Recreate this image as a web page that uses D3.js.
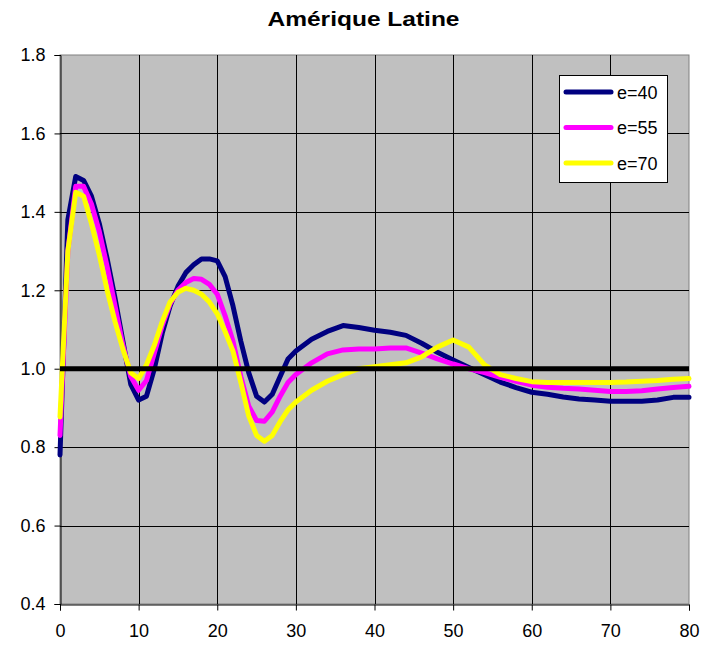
<!DOCTYPE html>
<html>
<head>
<meta charset="utf-8">
<script src="https://cdn.jsdelivr.net/npm/d3@7"></script>
<style>
  html, body { margin: 0; padding: 0; background: #ffffff; }
  svg text { font-family: "Liberation Sans", Arial, sans-serif; }
</style>
</head>
<body>
<svg id="chart" width="705" height="645"></svg>
<script>
const title = "Amérique Latine";
const years = [0,1,2,3,4,5,6,7,8,9,10,11,12,13,14,15,16,17,18,19,20,21,22,23,24,25,26,27,28,29,30,
               32,34,36,38,40,42,44,46,48,50,52,54,56,58,60,62,64,66,68,70,72,74,76,78,80];
const seriesNames = ["e=40", "e=55", "e=70"];
const e40 = [0.78,1.38,1.49,1.48,1.44,1.37,1.28,1.18,1.07,0.96,0.92,0.93,1.00,1.09,1.16,1.21,1.245,1.265,1.28,1.28,1.275,1.235,1.16,1.07,0.99,0.93,0.915,0.935,0.98,1.025,1.045,
             1.075,1.095,1.11,1.105,1.098,1.093,1.085,1.065,1.042,1.022,1.003,0.985,0.966,0.952,0.94,0.935,0.928,0.923,0.92,0.917,0.917,0.917,0.92,0.927,0.927];
const e55 = [0.83,1.30,1.465,1.465,1.42,1.35,1.26,1.16,1.06,0.98,0.945,0.97,1.04,1.11,1.165,1.20,1.22,1.23,1.228,1.215,1.19,1.135,1.07,0.98,0.905,0.868,0.866,0.89,0.93,0.965,0.985,
             1.015,1.038,1.048,1.05,1.05,1.053,1.053,1.04,1.025,1.012,1.0,0.99,0.978,0.968,0.958,0.953,0.95,0.948,0.945,0.942,0.942,0.944,0.948,0.952,0.955];
const e70 = [0.877,1.30,1.45,1.44,1.37,1.29,1.20,1.12,1.05,0.99,0.975,1.01,1.06,1.12,1.17,1.195,1.205,1.20,1.19,1.17,1.14,1.095,1.045,0.965,0.88,0.83,0.815,0.83,0.865,0.895,0.915,
             0.945,0.968,0.985,1.0,1.005,1.01,1.015,1.03,1.055,1.073,1.055,1.01,0.985,0.975,0.967,0.965,0.965,0.965,0.965,0.965,0.966,0.968,0.97,0.973,0.975];
const seriesColors = ["#000080", "#FF00FF", "#FFFF00"];
const refLevel = 1.0;
const xTicks = [0,10,20,30,40,50,60,70,80];
const yTicks = [0.4,0.6,0.8,1.0,1.2,1.4,1.6,1.8];

const svg = d3.select("#chart");
const L = 60, R = 689, T = 55, B = 604;
const x = d3.scaleLinear().domain([0, 80]).range([L, R]);
const y = d3.scaleLinear().domain([0.4, 1.8]).range([B, T]);

// Title
svg.append("text").attr("x", 363.5).attr("y", 26).attr("text-anchor", "middle")
  .attr("font-size", 20).attr("font-weight", "bold").attr("fill", "#000")
  .attr("textLength", 192).attr("lengthAdjust", "spacingAndGlyphs").text(title);

// Plot background
svg.append("rect").attr("x", L).attr("y", T).attr("width", R - L).attr("height", B - T)
  .attr("fill", "#C0C0C0").attr("stroke", "#808080").attr("stroke-width", 1);

// Gridlines
svg.append("g").selectAll("line").data(xTicks.filter(d => d > 0 && d < 80)).join("line")
  .attr("x1", d => Math.round(x(d)) + 0.5).attr("x2", d => Math.round(x(d)) + 0.5)
  .attr("y1", T).attr("y2", B).attr("stroke", "#000").attr("stroke-width", 1);
svg.append("g").selectAll("line").data(yTicks.filter(d => d > 0.4 && d < 1.8)).join("line")
  .attr("x1", L).attr("x2", R)
  .attr("y1", d => Math.round(y(d)) + 0.5).attr("y2", d => Math.round(y(d)) + 0.5)
  .attr("stroke", "#000").attr("stroke-width", 1);

// Axes
const yAxis = d3.axisLeft(y).tickValues(yTicks).tickFormat(d3.format(".1f")).tickSize(6).tickPadding(9);
const gy = svg.append("g").attr("transform", `translate(${L + 0.5},0)`).call(yAxis);
gy.selectAll("text").attr("font-size", 18).attr("fill", "#000").attr("font-family", "Liberation Sans, Arial, sans-serif");
gy.selectAll("line, path").attr("stroke", "#000");

const xAxis = d3.axisBottom(x).tickValues(xTicks).tickFormat(d3.format("d")).tickSize(6).tickPadding(14);
const gx = svg.append("g").attr("transform", `translate(0,${B + 0.5})`).call(xAxis);
gx.selectAll("text").attr("font-size", 18).attr("fill", "#000").attr("font-family", "Liberation Sans, Arial, sans-serif");
gx.selectAll("line, path").attr("stroke", "#000");

// Series
const line = d3.line().x((d, i) => x(years[i])).y(d => y(d)).curve(d3.curveLinear);
const allSeries = [e40, e55, e70];
const plot = svg.append("g");
allSeries.forEach((s, i) => {
  plot.append("path").datum(s).attr("d", line).attr("fill", "none")
    .attr("stroke", seriesColors[i]).attr("stroke-width", 5)
    .attr("stroke-linejoin", "round").attr("stroke-linecap", "round");
});

// Reference line at 1.0 (drawn on top)
svg.append("line").attr("x1", x(0)).attr("x2", x(80)).attr("y1", y(refLevel)).attr("y2", y(refLevel))
  .attr("stroke", "#000").attr("stroke-width", 5);

// Legend
const lg = svg.append("g");
lg.append("rect").attr("x", 559.5).attr("y", 75.5).attr("width", 108).attr("height", 107)
  .attr("fill", "#fff").attr("stroke", "#000").attr("stroke-width", 1);
seriesNames.forEach((n, i) => {
  const yy = 92 + i * 35.5;
  lg.append("line").attr("x1", 566).attr("x2", 611).attr("y1", yy).attr("y2", yy)
    .attr("stroke", seriesColors[i]).attr("stroke-width", 5).attr("stroke-linecap", "round");
  lg.append("text").attr("x", 617).attr("y", yy + 6.5).attr("font-size", 18).attr("fill", "#000").text(n);
});
</script>
</body>
</html>
